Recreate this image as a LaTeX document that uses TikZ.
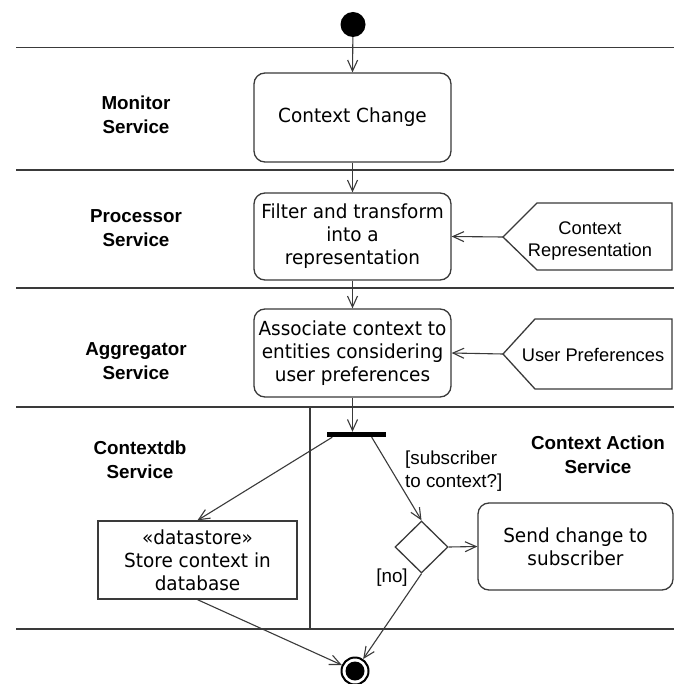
\documentclass[tikz,border=0pt]{standalone}
\usepackage{fontspec}
\setmainfont{Liberation Sans}
\newfontfamily\dvfont[FakeStretch=0.95]{DejaVu Sans}
\usetikzlibrary{arrows.meta,shapes.geometric,calc}
\definecolor{linec}{HTML}{3A3A3A}
\newcommand\boxtext{\dvfont\fontsize{19.4}{23}\selectfont}
\newcommand\lanetext{\bfseries\fontsize{18.8}{24}\selectfont}
\newcommand\plaintext{\fontsize{18.3}{22}\selectfont}
\newcommand\guardtext{\fontsize{18.8}{23}\selectfont}
\begin{document}
\begin{tikzpicture}[x=1pt,y=-1pt,
  lane/.style={draw=linec, line width=1.7pt},
  act/.style={draw=linec, line width=1.3pt, rounded corners=11pt, inner sep=0pt, align=center, font=\boxtext},
  store/.style={draw=linec, line width=1.3pt, inner sep=0pt, align=center, font=\boxtext},
  lanelabel/.style={align=center, font=\lanetext, inner sep=0pt},
  pin/.style={draw=linec, line width=1.3pt},
  pintext/.style={align=center, font=\plaintext, inner sep=0pt},
  guard/.style={align=left, font=\guardtext, inner sep=0pt},
  flow/.style={draw=linec, line width=1.1pt, -{Straight Barb[length=11pt,width=10pt]}},
  decision/.style={diamond, draw=linec, line width=1.3pt, minimum width=53pt, minimum height=52pt, inner sep=0pt}
]
\fill[white] (0,0) rectangle (674,684);
\useasboundingbox (0,0) rectangle (674,684);

% swimlane lines
\draw[lane] (16,47.5) -- (674,47.5);
\draw[lane] (16,170) -- (674,170);
\draw[lane] (16,288) -- (674,288);
\draw[lane] (16,407) -- (674,407);
\draw[lane] (16,629) -- (674,629);
\draw[lane] (310,407) -- (310,629);

% lane labels
\node[lanelabel] (lmon) at (136,115) {Monitor\\Service};
\node[lanelabel] (lproc) at (136,228) {Processor\\Service};
\node[lanelabel] (lagg) at (136,361) {Aggregator\\Service};
\node[lanelabel] (ldb) at (140,460) {Contextdb\\Service};
\node[lanelabel] (lact) at (598,455) {Context Action\\Service};

% nodes
\node[circle, fill=black, minimum size=25pt, inner sep=0pt] (start) at (353,24.5) {};
\node[act, minimum width=197pt, minimum height=89pt] (cc) at (352.5,117.5) {Context Change};
\node[act, minimum width=197pt, minimum height=87pt] (filter) at (352.5,236.5) {Filter and transform\\into a\\representation};
\node[act, minimum width=197pt, minimum height=88pt] (assoc) at (352.5,353) {Associate context to\\entities considering\\user preferences};

% object pins
\coordinate (crtip) at (503,237);
\draw[pin] (crtip) -- (537,203) -- (672,203) -- (672,270) -- (537,270) -- cycle;
\node[pintext] (crtext) at (590,241) {Context\\Representation};
\coordinate (uptip) at (503,354);
\draw[pin] (uptip) -- (535,319) -- (672,319) -- (672,389) -- (535,389) -- cycle;
\node[pintext] (uptext) at (593,355) {User Preferences};

\node[fill=black, minimum width=59pt, minimum height=5pt, inner sep=0pt] (fork) at (356,434.5) {};
\node[store, minimum width=199pt, minimum height=78pt] (ds) at (197.5,560) {«datastore»\\Store context in\\database};
\node[decision] (dia) at (421.5,547) {};
\node[act, minimum width=195pt, minimum height=87pt] (send) at (575.5,546.5) {Send change to\\subscriber};
\node[circle, draw=black, line width=2pt, minimum size=27pt, inner sep=0pt,
  path picture={\fill[black] (path picture bounding box.center) circle (9.5pt);}] (end) at (355,671) {};

\node[guard, anchor=west] (gsub) at (405,471.5) {[subscriber\\to context?]};
\node[guard] (gno) at (392,578) {[no]};

% connectors
\draw[flow] (start) -- (cc.north);
\draw[flow] (cc.south) -- (filter.north);
\draw[flow] (filter.south) -- (assoc.north);
\draw[flow] (crtip) -- (filter.east);
\draw[flow] (uptip) -- (assoc.east);
\draw[flow] (assoc.south) -- (assoc.south |- fork.north);
\draw[flow] ($(fork.south west)+(6,0)$) -- (ds.north);
\draw[flow] ($(fork.south east)+(-14,0)$) -- (dia.north);
\draw[flow] (dia.east) -- (send.west);
\draw[flow] (ds.south) -- (end);
\draw[flow] (dia.south) -- (end);
\end{tikzpicture}
\end{document}
